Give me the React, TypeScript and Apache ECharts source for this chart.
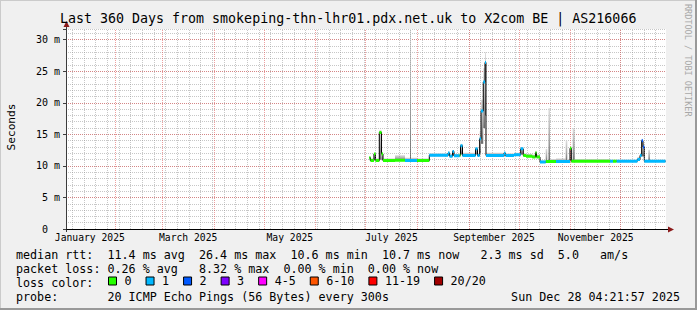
import React, { useEffect, useRef } from 'react';
import * as echarts from 'echarts';

const MONO = "'DejaVu Sans Mono', monospace";

const chartTitle = 'Last 360 Days from smokeping-thn-lhr01.pdx.net.uk to X2com BE | AS216066';
const yAxisTitle = 'Seconds';
const rangeStart = '2025-01-02 04:21:57';
const rangeEnd = '2025-12-28 04:21:57';
const dataEnd = '2025-12-27 21:00';

// step samples: each value holds from its time until the next sample
const sampleTimes = [
  '2025-07-03 04:00', '2025-07-03 21:00', '2025-07-05 23:00', '2025-07-06 21:00', '2025-07-09 04:00',
  '2025-07-10 12:00', '2025-07-11 09:00', '2025-07-18 14:00', '2025-07-24 14:00', '2025-07-27 14:00',
  '2025-07-28 04:00', '2025-07-31 19:00', '2025-08-08 04:00', '2025-08-19 09:00', '2025-08-20 07:00',
  '2025-08-22 02:00', '2025-08-22 23:00', '2025-08-26 07:00', '2025-08-26 21:00', '2025-08-28 02:00',
  '2025-09-04 21:00', '2025-09-06 02:00', '2025-09-07 09:00', '2025-09-08 04:00', '2025-09-09 13:00',
  '2025-09-10 14:00', '2025-09-11 04:00', '2025-09-21 23:00', '2025-09-22 21:00', '2025-09-27 23:00',
  '2025-10-02 00:00', '2025-10-03 13:00', '2025-10-05 04:00', '2025-10-08 23:00', '2025-10-10 21:00',
  '2025-10-11 12:00', '2025-10-13 14:00', '2025-10-17 00:00', '2025-10-17 23:00', '2025-10-18 16:00',
  '2025-10-19 14:00', '2025-10-23 04:00', '2025-10-29 00:00', '2025-10-29 23:00', '2025-10-31 14:00',
  '2025-11-01 09:00', '2025-11-02 05:00', '2025-11-03 10:00', '2025-11-24 14:00', '2025-11-26 09:00',
  '2025-11-28 14:00', '2025-12-11 00:00', '2025-12-12 14:00', '2025-12-13 14:00', '2025-12-14 09:00',
  '2025-12-15 04:00', '2025-12-17 13:00', '2025-12-18 14:00',
];
const medianMs = [
  11.3, 10.85, 11.9, 10.85, 15.3,
  11.9, 10.85, 10.9, 10.85, 10.85,
  10.85, 10.85, 11.7, 12.05, 11.55,
  12.3, 11.6, 11.7, 13.2, 11.66,
  12.7, 11.66, 14.3, 18.7, 23.3,
  26.4, 11.66, 12.0, 11.66, 11.78,
  12.7, 11.66, 11.55, 11.4, 12.1,
  11.4, 10.6, 10.7, 10.7, 10.7,
  10.7, 10.7, 10.7, 10.7, 12.8,
  10.75, 10.75, 10.75, 10.75, 10.75,
  10.75, 11.0, 11.66, 14.0, 13.0,
  10.75, 10.75, 10.75,
];
const lossCount = [
  0, 0, 0, 0, 0,
  0, 0, 0, 1, 1,
  1, 0, 1, 1, 1,
  1, 1, 0, 1, 1,
  1, 1, 1, 1, 1,
  1, 1, 1, 1, 1,
  1, 0, 0, 0, 0,
  0, 1, 0, 0, 0,
  0, 1, 1, 1, 0,
  0, 0, 0, 1, 0,
  1, 1, 1, 2, 2,
  1, 1, 1,
];
const smokeLowMs = [
  10.9, 10.75, 10.9, 10.75, 11.0,
  10.9, 10.75, 10.8, 10.75, 10.7,
  10.75, 10.75, 11.55, 11.6, 11.45,
  11.6, 11.5, 11.55, 11.8, 11.55,
  11.8, 11.55, 12.0, 13.5, 16.0,
  18.0, 11.55, 11.6, 11.55, 11.65,
  11.8, 11.55, 11.45, 11.3, 11.4,
  11.3, 10.5, 10.6, 10.6, 10.6,
  10.6, 10.6, 10.6, 10.6, 10.8,
  10.65, 10.65, 10.65, 10.65, 10.65,
  10.65, 10.9, 11.5, 11.5, 11.5,
  10.65, 10.65, 10.65,
];
const smokeHighMs = [
  11.5, 11.2, 12.1, 11.2, 15.7,
  12.2, 11.2, 11.7, 11.3, 31.7,
  11.3, 11.2, 12.0, 12.3, 11.9,
  12.5, 11.9, 12.0, 13.5, 12.1,
  13.0, 12.0, 15.5, 20.5, 25.5,
  28.0, 12.1, 12.3, 12.0, 12.1,
  13.0, 12.0, 11.9, 11.8, 12.4,
  11.8, 10.9, 12.7, 11.0, 19.15,
  11.1, 11.2, 14.0, 11.1, 13.0,
  11.1, 16.0, 11.1, 11.0, 11.0,
  11.0, 11.4, 12.0, 14.3, 13.6,
  11.0, 12.55, 11.0,
];

const yMax = 31.7;
const yMajorStep = 5;
const yMinorStep = 1;

const monthLabels = ['January 2025', 'March 2025', 'May 2025', 'July 2025', 'September 2025', 'November 2025'];
const monthLabelAt = ['2025-01-16 12:00', '2025-03-16 12:00', '2025-05-16 12:00', '2025-07-16 12:00', '2025-09-16 00:00', '2025-11-16 00:00'];
const monthGridAt = ['2025-02-01', '2025-03-01', '2025-04-01', '2025-05-01', '2025-06-01', '2025-07-01',
  '2025-08-01', '2025-09-01', '2025-10-01', '2025-11-01', '2025-12-01'];
const firstWeekLine = '2025-01-06';

const lossNames = ['0', '1', '2', '3', '4-5', '6-10', '11-19', '20/20'];
const lossUpper = [0, 1, 2, 3, 5, 10, 19, 20];
const lossColors = ['#26ff00', '#00b8ff', '#0059ff', '#7e00ff', '#ff00ff', '#ff5500', '#ff0000', '#a10000'];

const statsMedian = 'median rtt:  11.4 ms avg  26.4 ms max  10.6 ms min  10.7 ms now   2.3 ms sd  5.0   am/s';
const statsLoss = 'packet loss: 0.26 % avg   8.32 % max  0.00 % min  0.00 % now';
const lossColorLabel = 'loss color:';
const probeText = 'probe:       20 ICMP Echo Pings (56 Bytes) every 300s';
const stampText = 'Sun Dec 28 04:21:57 2025';
const watermark = 'RRDTOOL / TOBI OETIKER';

function ts(s: string): number {
  const [d, t = '00:00:00'] = s.split(' ');
  const [y, m, dd] = d.split('-').map(Number);
  const [hh, mm, ss] = t.split(':').map(Number);
  return Date.UTC(y, m - 1, dd, hh || 0, mm || 0, ss || 0);
}

export default function App() {
  const ref = useRef<HTMLDivElement>(null);
  useEffect(() => {
    document.body.style.margin = '0';
    const chart = echarts.init(ref.current!, undefined, { renderer: 'svg' });
    const xMin = ts(rangeStart);
    const xMax = ts(rangeEnd);
    const T = sampleTimes.map(ts);
    const tEnd = ts(dataEnd);
    const nextT = (i: number) => (i + 1 < T.length ? T[i + 1] : tEnd);
    const bucketOf = (n: number) => lossUpper.findIndex((u) => n <= u);
    const labelTs = monthLabelAt.map(ts);

    const medianLine: any[] = T.map((t, i) => [t, medianMs[i]]);
    medianLine.push([tEnd, medianMs[medianMs.length - 1]]);

    const bucketSeries = lossNames.map((name, b) => {
      const data: any[] = [];
      T.forEach((t, i) => {
        if (bucketOf(lossCount[i]) === b) {
          data.push([t, medianMs[i]], [nextT(i), medianMs[i]], [nextT(i), '-']);
        }
      });
      return {
        type: 'line', name, data, color: lossColors[b],
        symbol: 'none', showSymbol: false, connectNulls: false,
        lineStyle: { width: 3, color: lossColors[b] },
        itemStyle: { color: lossColors[b] },
        z: 5, silent: true,
      };
    });

    const weekLines: number[] = [];
    for (let t = ts(firstWeekLine); t < xMax; t += 7 * 86400000) weekLines.push(t);

    const smokeData = T.map((t, i) => [t, nextT(i), smokeLowMs[i], smokeHighMs[i]]);

    const gridDash = [1, 1];
    const option: any = {
      animation: false,
      backgroundColor: '#f0f0f0',
      title: {
        text: chartTitle, left: 60, top: 11, padding: 0,
        textStyle: { fontFamily: MONO, fontSize: 13.3, fontWeight: 'normal', color: '#000', lineHeight: 15 },
      },
      grid: {
        left: 66, right: 31, top: 29, bottom: 81, show: true, backgroundColor: '#ffffff', borderWidth: 0,
        containLabel: false, outerBoundsMode: 'none',
      },
      legend: {
        data: lossNames, left: 108, top: 275, padding: 0, icon: 'rect',
        itemWidth: 8, itemHeight: 8, itemGap: 14, selectedMode: false,
        itemStyle: { borderColor: '#000', borderWidth: 1 },
        textStyle: { fontFamily: MONO, fontSize: 11.7, color: '#000', padding: [0, 0, 0, 3] },
      },
      xAxis: {
        type: 'value', min: xMin, max: xMax,
        axisLine: { show: true, lineStyle: { color: '#000', width: 1 } },
        axisTick: { show: false },
        splitLine: { show: false },
        axisLabel: {
          customValues: labelTs,
          formatter: (v: number) => {
            const i = labelTs.indexOf(v);
            return i >= 0 ? monthLabels[i] : '';
          },
          fontFamily: MONO, fontSize: 9.7, color: '#000', margin: 3, lineHeight: 10,
        },
      },
      yAxis: [
        {
          type: 'value', min: 0, max: yMax, interval: yMajorStep, z: 2,
          axisLine: { show: true, lineStyle: { color: '#3c3c3c', width: 1 } },
          axisTick: { show: true, length: 3, lineStyle: { color: '#3c3c3c' } },
          axisLabel: {
            fontFamily: MONO, fontSize: 10, color: '#000', margin: 6, lineHeight: 10,
            formatter: (v: number) => (v === 0 ? '{z|0}' : v % yMajorStep === 0 ? `${v} m` : ''),
            rich: { z: { fontFamily: MONO, fontSize: 10, color: '#000', padding: [0, 12, 0, 0] } },
          },
          splitLine: { show: true, showMinLine: false, showMaxLine: false, lineStyle: { color: 'rgba(222,80,80,0.55)', type: gridDash, width: 1 } },
        },
        {
          type: 'value', min: 0, max: yMax, interval: yMinorStep, z: 1,
          axisLine: { show: false }, axisTick: { show: false }, axisLabel: { show: false },
          splitLine: { show: true, showMinLine: false, lineStyle: { color: 'rgba(143,143,143,0.5)', type: gridDash, width: 1 } },
        },
      ],
      series: [
        {
          type: 'line', name: 'grid', data: [], silent: true, z: 1,
          markLine: {
            silent: true, symbol: ['none', 'none'], label: { show: false }, animation: false,
            data: [
              ...weekLines.map((t) => ({ xAxis: t, lineStyle: { color: 'rgba(143,143,143,0.5)', type: gridDash, width: 1 } })),
              ...monthGridAt.map((d) => ({ xAxis: ts(d), lineStyle: { color: 'rgba(222,80,80,0.55)', type: gridDash, width: 1 } })),
            ],
          },
        },
        {
          type: 'custom', name: 'smoke', data: smokeData, z: 3, silent: true,
          encode: { x: [0, 1], y: [2, 3] },
          renderItem: (_p: any, api: any) => {
            const a = api.coord([api.value(0), api.value(3)]);
            const b = api.coord([api.value(1), api.value(2)]);
            return {
              type: 'rect',
              shape: { x: a[0], y: a[1], width: Math.max(b[0] - a[0], 1), height: Math.max(b[1] - a[1], 1) },
              style: {
                fill: new echarts.graphic.LinearGradient(0, 1, 0, 0, [
                  { offset: 0, color: '#6a6a6a' },
                  { offset: 0.45, color: '#a8a8a8' },
                  { offset: 1, color: '#dedede' },
                ]),
              },
            };
          },
        },
        {
          type: 'line', name: 'median', data: medianLine, step: 'end', z: 4, silent: true,
          symbol: 'none', showSymbol: false, lineStyle: { color: '#000', width: 1 },
        },
        ...bucketSeries,
      ],
      graphic: [
        { type: 'line', shape: { x1: 0, y1: 0.5, x2: 697, y2: 0.5 }, style: { stroke: '#cbcbcb', lineWidth: 1 } },
        { type: 'line', shape: { x1: 0.5, y1: 0, x2: 0.5, y2: 310 }, style: { stroke: '#cbcbcb', lineWidth: 1 } },
        { type: 'line', shape: { x1: 0, y1: 309, x2: 697, y2: 309 }, style: { stroke: '#999999', lineWidth: 2 } },
        { type: 'line', shape: { x1: 696, y1: 0, x2: 696, y2: 310 }, style: { stroke: '#999999', lineWidth: 2 } },
        { type: 'line', shape: { x1: 66.5, y1: 232, x2: 66.5, y2: 25 }, style: { stroke: '#3c3c3c', lineWidth: 1 } },
        { type: 'polygon', shape: { points: [[63.5, 27], [69.5, 27], [66.5, 21]] }, style: { fill: '#8b1a1a' } },
        { type: 'line', shape: { x1: 63, y1: 229.5, x2: 669, y2: 229.5 }, style: { stroke: '#000', lineWidth: 1 } },
        { type: 'polygon', shape: { points: [[668, 226.5], [668, 232.5], [674, 229.5]] }, style: { fill: '#8b1a1a' } },
        { type: 'text', x: 11, y: 127, rotation: Math.PI / 2, style: { text: yAxisTitle, font: `11.2px ${MONO}`, fill: '#000', align: 'center', verticalAlign: 'middle' } },
        { type: 'text', x: 16, y: 254.5, style: { text: statsMedian, font: `11.7px ${MONO}`, fill: '#000', verticalAlign: 'middle' } },
        { type: 'text', x: 16, y: 268.5, style: { text: statsLoss, font: `11.7px ${MONO}`, fill: '#000', verticalAlign: 'middle' } },
        { type: 'text', x: 16, y: 282.5, style: { text: lossColorLabel, font: `11.7px ${MONO}`, fill: '#000', verticalAlign: 'middle' } },
        { type: 'text', x: 16, y: 296.5, style: { text: probeText, font: `11.7px ${MONO}`, fill: '#000', verticalAlign: 'middle' } },
        { type: 'text', x: 680, y: 296.5, style: { text: stampText, font: `11.7px ${MONO}`, fill: '#000', align: 'right', verticalAlign: 'middle' } },
        { type: 'text', x: 687.5, y: 4, rotation: -Math.PI / 2, style: { text: watermark, font: `8.5px ${MONO}`, fill: '#a8a8a8', align: 'left', verticalAlign: 'middle' } },
      ],
    };
    chart.setOption(option);
    return () => chart.dispose();
  }, []);
  return <div ref={ref} style={{ position: 'fixed', left: 0, top: 0, width: 697, height: 310 }} />;
}
